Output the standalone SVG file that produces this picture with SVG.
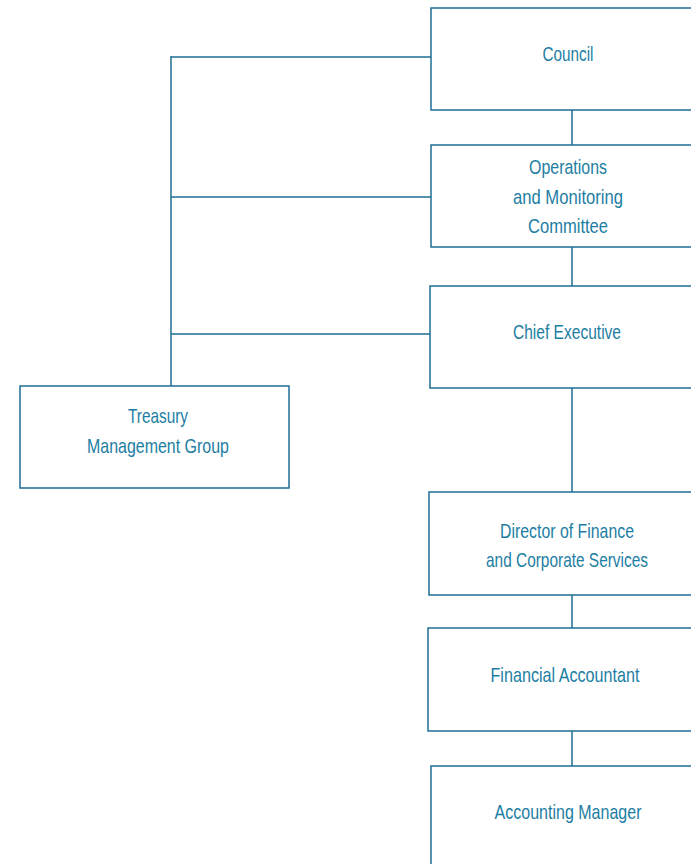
<svg xmlns="http://www.w3.org/2000/svg" width="691" height="864" viewBox="0 0 691 864">
<style>
.box{fill:#fff;stroke:#1f6d96;stroke-width:1.5}
.ln{fill:none;stroke:#1f6d96;stroke-width:1.5}
text{font-family:"Liberation Sans",Arial,sans-serif;font-size:21px;fill:#1d7ea3;text-anchor:middle}
</style>
<rect width="691" height="864" fill="#fff"/>
<g id="connectors">
<path class="ln" d="M572 110V145M572 247V286M572 388V492M572 595V628M572 731V766"/>
<path class="ln" d="M171 56V386M171 57H431M171 197H431M171 334H430"/>
</g>
<g id="council"><rect class="box" x="431" y="8" width="270" height="102"/><text x="568" y="61" textLength="51" lengthAdjust="spacingAndGlyphs">Council</text></g>
<g id="ops"><rect class="box" x="431" y="145" width="270" height="102"/>
<text x="568" y="174" textLength="78" lengthAdjust="spacingAndGlyphs">Operations</text>
<text x="568" y="204" textLength="110" lengthAdjust="spacingAndGlyphs">and Monitoring</text>
<text x="568" y="233" textLength="80" lengthAdjust="spacingAndGlyphs">Committee</text></g>
<g id="chief"><rect class="box" x="430" y="286" width="270" height="102"/><text x="567" y="339" textLength="108" lengthAdjust="spacingAndGlyphs">Chief Executive</text></g>
<g id="treasury"><rect class="box" x="20" y="386" width="269" height="102"/>
<text x="158" y="423" textLength="60" lengthAdjust="spacingAndGlyphs">Treasury</text>
<text x="158" y="453" textLength="142" lengthAdjust="spacingAndGlyphs">Management Group</text></g>
<g id="director"><rect class="box" x="429" y="492" width="270" height="103"/>
<text x="567" y="538" textLength="134" lengthAdjust="spacingAndGlyphs">Director of Finance</text>
<text x="567" y="567" textLength="162" lengthAdjust="spacingAndGlyphs">and Corporate Services</text></g>
<g id="finacc"><rect class="box" x="428" y="628" width="270" height="103"/><text x="565" y="682" textLength="149" lengthAdjust="spacingAndGlyphs">Financial Accountant</text></g>
<g id="accmgr"><rect class="box" x="431" y="766" width="270" height="110"/><text x="568" y="819" textLength="147" lengthAdjust="spacingAndGlyphs">Accounting Manager</text></g>
</svg>
